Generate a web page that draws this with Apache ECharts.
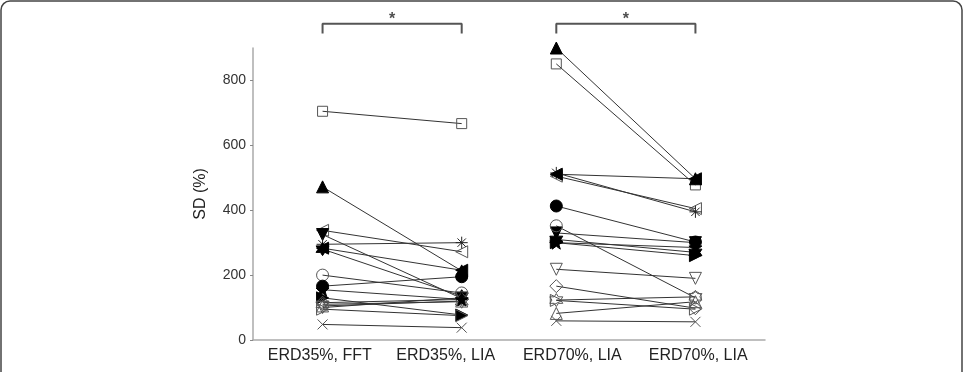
<!DOCTYPE html>
<html>
<head>
<meta charset="utf-8">
<script src="https://cdn.jsdelivr.net/npm/echarts@6/dist/echarts.min.js"></script>
<style>html,body{margin:0;padding:0;background:#fff;}#c{width:967px;height:372px;}</style>
</head>
<body>
<div id="c"></div>
<script>
// Conditions (x positions in abstract axis units)
const categories = ['ERD35%, FFT', 'ERD35%, LIA', 'ERD70%, LIA', 'ERD70%, LIA'];
const catPos = [0.5, 1.5, 2.18, 3.18];          // where the markers sit
const labelPos = [0.48, 1.385, 2.295, 3.2];     // where the tick labels sit
const yTicks = [0, 200, 400, 600, 800];

// Subjects: marker type and SD (%) values for the 4 conditions
const markers = ['sqOpen','upFill','leftOpen','downFill','aster','leftFill','hexFill','circOpen','circFill','rightFill','upOpen','diaOpen','rightOpen','cross','downOpen','hexOpen','starFill'];
const vFFT35 = [705, 472, 338, 325, 295, 283, 280, 200, 166, 130, 105, 115, 95, 48, 100, 110, 155];
const vLIA35 = [667, 213, 272, 128, 300, 215, 135, 145, 195, 77, 120, 125, 75, 38, 130, 118, 125];
const vLIA70a = [851, 900, 505, 330, 515, 511, 310, 352, 413, 300, 82, 166, 122, 59, 218, 123, 300];
const vLIA70b = [478, 497, 405, 300, 395, 497, 270, 130, 302, 260, 118, 98, 95, 56, 190, 133, 285];

// Significance brackets
const bracketPairs = [[0, 1], [2, 3]];
const bracketLow = 945, bracketHigh = 975;

const paths = {
  down: 'path://M0,0 L10,0 L5,10 Z',
  left: 'path://M10,0 L10,10 L0,5 Z',
  right: 'path://M0,0 L0,10 L10,5 Z',
  aster: 'path://M5,0 L5,10 M0,5 L10,5 M1.5,1.5 L8.5,8.5 M8.5,1.5 L1.5,8.5',
  cross: 'path://M0,0 L10,10 M10,0 L0,10',
  hex: 'path://M5,0 L6.4,2.5 L9.3,2.5 L7.9,5 L9.3,7.5 L6.4,7.5 L5,10 L3.6,7.5 L0.7,7.5 L2.1,5 L0.7,2.5 L3.6,2.5 Z',
  star: 'path://M5,0 L6.2,3.6 L10,3.6 L6.9,5.9 L8.1,9.5 L5,7.3 L1.9,9.5 L3.1,5.9 L0,3.6 L3.8,3.6 Z'
};
function sym(m) {
  const open = /Open/.test(m);
  const fillC = open ? 'rgba(0,0,0,0)' : '#000';
  const bc = open ? '#555' : '#000';
  let s, size = 11;
  if (m.startsWith('sq')) { s = 'rect'; size = 10; }
  else if (m.startsWith('up')) { s = 'triangle'; size = 12; }
  else if (m.startsWith('down')) { s = paths.down; size = 12; }
  else if (m.startsWith('left')) { s = paths.left; size = 12; }
  else if (m.startsWith('right')) { s = paths.right; size = 12; }
  else if (m.startsWith('circ')) { s = 'circle'; size = 12; }
  else if (m.startsWith('dia')) { s = 'diamond'; size = 13; }
  else if (m.startsWith('hex')) { s = paths.hex; size = 13; }
  else if (m.startsWith('star')) { s = paths.star; size = 13; }
  else if (m === 'aster') { s = paths.aster; size = 12; return {symbol: s, symbolSize: size, itemStyle: {color: 'rgba(0,0,0,0)', borderColor: '#222', borderWidth: 1}}; }
  else if (m === 'cross') { s = paths.cross; size = 10; return {symbol: s, symbolSize: size, itemStyle: {color: 'rgba(0,0,0,0)', borderColor: '#555', borderWidth: 1}}; }
  return {symbol: s, symbolSize: size, itemStyle: {color: fillC, borderColor: bc, borderWidth: 1}};
}

const series = [];
const groups = [[vFFT35, vLIA35, 0, 1], [vLIA70a, vLIA70b, 2, 3]];
markers.forEach((m, i) => {
  groups.forEach(g => {
    const st = sym(m);
    series.push(Object.assign({
      type: 'line', clip: false,
      data: [[catPos[g[2]], g[0][i]], [catPos[g[3]], g[1][i]]],
      lineStyle: {color: '#333', width: 1},
      emphasis: {disabled: true},
      animation: false,
      z: 3
    }, st));
  });
});
bracketPairs.forEach(p => {
  series.push({
    type: 'line', clip: false, symbol: 'none', animation: false,
    data: [[catPos[p[0]], bracketLow], [catPos[p[0]], bracketHigh], [catPos[p[1]], bracketHigh], [catPos[p[1]], bracketLow]],
    lineStyle: {color: '#555', width: 2}, z: 2
  });
  series.push({
    type: 'scatter', clip: false, symbolSize: 1, animation: false,
    itemStyle: {color: 'rgba(0,0,0,0)'},
    data: [[(catPos[p[0]] + catPos[p[1]]) / 2, bracketHigh]],
    label: {show: true, position: 'top', distance: -4, formatter: '*', fontSize: 16, fontWeight: 'bold', color: '#222', fontFamily: 'Liberation Sans'}
  });
});

const chart = echarts.init(document.getElementById('c'), null, {renderer: 'canvas'});
chart.setOption({
  backgroundColor: '#fff',
  animation: false,
  graphic: [{
    type: 'rect', silent: true, z: 100,
    shape: {x: 1, y: 1, width: 961, height: 420, r: 9},
    style: {fill: 'none', stroke: '#444', lineWidth: 1.5}
  }],
  grid: {left: 253, right: 202, top: 48, bottom: 32},
  xAxis: {
    type: 'value', min: 0, max: 3.68,
    splitLine: {show: false},
    axisLine: {show: true, lineStyle: {color: '#aaa', width: 1.5}},
    axisTick: {show: false},
    axisLabel: {
      customValues: labelPos, margin: 8, fontSize: 16, color: '#222', fontFamily: 'Liberation Sans',
      formatter: v => { let k = 0, d = 1e9; labelPos.forEach((p, j) => { if (Math.abs(p - v) < d) { d = Math.abs(p - v); k = j; } }); return categories[k]; }
    }
  },
  yAxis: {
    type: 'value', min: 0, max: 900,
    name: 'SD (%)', nameLocation: 'middle', nameGap: 44,
    nameTextStyle: {fontSize: 16, color: '#222', fontFamily: 'Liberation Sans'},
    splitLine: {show: false},
    axisLine: {show: true, lineStyle: {color: '#aaa', width: 1.5}},
    axisTick: {show: true, customValues: yTicks, length: 3, lineStyle: {color: '#888'}},
    axisLabel: {customValues: yTicks, margin: 7, fontSize: 14, color: '#333', fontFamily: 'Liberation Sans'}
  },
  series: series
});
</script>
</body>
</html>
